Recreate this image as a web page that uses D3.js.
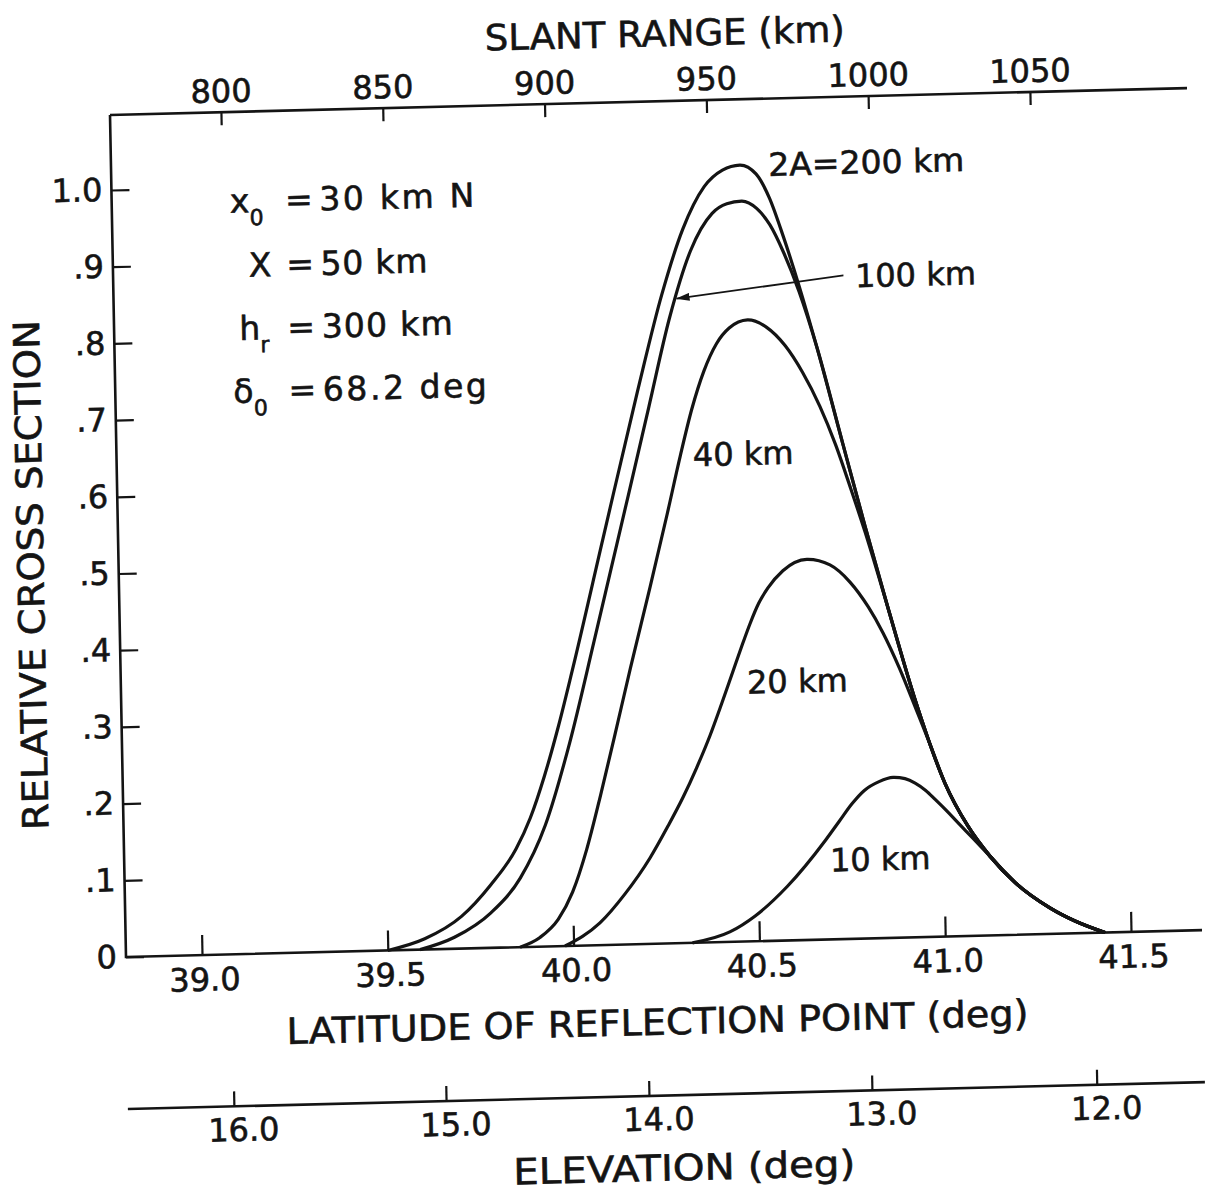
<!DOCTYPE html>
<html><head><meta charset="utf-8">
<script src="https://cdn.jsdelivr.net/npm/d3@7"></script>
<style>
html,body{margin:0;padding:0;background:#fff;}
svg{display:block;}
text{font-family:"DejaVu Sans",sans-serif;fill:#141414;stroke:#141414;stroke-width:0.6px;}
</style></head><body>
<svg id="chart" width="1205" height="1192"></svg>
<script>
// ---------- data ----------
const latTicks = [39.0, 39.5, 40.0, 40.5, 41.0, 41.5];
const latLabels = ["39.0", "39.5", "40.0", "40.5", "41.0", "41.5"];
const slantTicks = [800, 850, 900, 950, 1000, 1050];
const slantLabels = ["800", "850", "900", "950", "1000", "1050"];
const slantLatAt = [39.094, 41.271];            // latitude at 800 km and at 1050 km slant range
const elevTicks = [16, 15, 14, 13, 12];
const elevLabels = ["16.0", "15.0", "14.0", "13.0", "12.0"];
const elevLatAt = [39.078, 39.649, 40.195, 40.795, 41.400]; // latitude at each elevation tick
const yTicks = [0, 0.1, 0.2, 0.3, 0.4, 0.5, 0.6, 0.7, 0.8, 0.9, 1.0];
const yLabels = ["0", ".1", ".2", ".3", ".4", ".5", ".6", ".7", ".8", ".9", "1.0"];

// relative cross section vs latitude of reflection point (deg)
const curve200 = [[39.50,0],[39.60,0.014],[39.70,0.042],[39.78,0.082],[39.85,0.128],[39.89,0.168],[39.93,0.222],
  [39.97,0.286],[40.01,0.358],[40.10,0.53],[40.20,0.72],[40.27,0.845],[40.33,0.93],[40.39,0.985],[40.44,1.006],
  [40.487,1.012],[40.53,1.0],[40.565,0.968],[40.60,0.918],[40.64,0.853],[40.685,0.772],[40.75,0.645],
  [40.805,0.538],[40.863,0.43],[40.931,0.31],[41.007,0.20],[41.067,0.143],[41.125,0.103],[41.191,0.068],
  [41.283,0.034],[41.35,0.016],[41.43,0]];
const curve100 = [[39.587,0],[39.68,0.015],[39.78,0.046],[39.86,0.09],[39.93,0.158],[40.00,0.265],[40.07,0.395],
  [40.12,0.49],[40.17,0.585],[40.23,0.70],[40.29,0.815],[40.35,0.902],[40.41,0.950],[40.45,0.962],[40.49,0.965],
  [40.53,0.955],[40.565,0.933],[40.60,0.897],[40.64,0.845],[40.685,0.772],[40.75,0.645],
  [40.805,0.538],[40.863,0.43],[40.931,0.31],[41.007,0.20],[41.067,0.143],[41.125,0.103],[41.191,0.068],
  [41.283,0.034],[41.35,0.016],[41.43,0]];
const curve40 = [[39.856,0],[39.91,0.012],[39.96,0.035],[40.00,0.07],[40.04,0.125],[40.08,0.195],[40.12,0.27],
  [40.167,0.36],[40.224,0.465],[40.274,0.56],[40.312,0.635],[40.345,0.695],[40.38,0.745],[40.415,0.78],
  [40.45,0.80],[40.50,0.81],[40.55,0.80],[40.60,0.775],[40.645,0.74],[40.69,0.695],[40.73,0.645],[40.77,0.585],
  [40.805,0.530],[40.863,0.43],[40.931,0.31],[41.007,0.20],[41.067,0.143],[41.125,0.103],[41.191,0.068],
  [41.283,0.034],[41.35,0.016],[41.43,0]];
const curve20 = [[39.977,0],[40.072,0.029],[40.141,0.066],[40.21,0.112],[40.26,0.153],[40.302,0.19],[40.34,0.228],
  [40.378,0.27],[40.41,0.31],[40.443,0.353],[40.47,0.388],[40.491,0.414],[40.515,0.440],[40.541,0.460],
  [40.582,0.482],[40.647,0.496],[40.709,0.488],[40.762,0.465],[40.81,0.432],[40.848,0.398],[40.89,0.352],
  [40.935,0.295],[40.97,0.25],[41.007,0.20],[41.067,0.143],[41.125,0.103],[41.191,0.068],
  [41.283,0.034],[41.35,0.016],[41.43,0]];
const curve10 = [[40.32,0],[40.421,0.013],[40.490,0.033],[40.577,0.070],[40.684,0.130],[40.72,0.153],[40.756,0.176],
  [40.79,0.193],[40.83,0.204],[40.868,0.209],[40.90,0.207],[40.927,0.201],[40.955,0.191],[40.98,0.179],
  [41.01,0.164],[41.04,0.148],[41.08,0.127],[41.125,0.103],[41.191,0.068],
  [41.283,0.034],[41.35,0.016],[41.43,0]];

const curveLabels = ["2A=200 km", "100 km", "40 km", "20 km", "10 km"];
const curveLabelAt = [[40.5635, 1.012], [40.791, 0.864], [40.346, 0.636], [40.480, 0.338], [40.694, 0.1035]];
const arrowPath = [[40.76, 0.865], [40.635, 0.858], [40.31, 0.840]];

const paramSymbols = ["x", "X", "h", "\u03b4"];
const paramSubs = ["0", "", "r", "0"];
const paramValues = ["30 km  N", "50 km", "300 km", "68.2 deg"];
const paramSymLat = [39.113, 39.161, 39.132, 39.113];
const paramRowVal = [0.982, 0.898, 0.816, 0.734];

// ---------- drawing ----------
const ink = "#141414";
const svg = d3.select("#chart");
svg.append("rect").attr("width", 1205).attr("height", 1192).attr("fill", "#fff");
const g = svg.append("g").attr("transform", "matrix(1,-0.025,0.019,1,126,957)");

const plotRight = 1076, plotTop = -842, elevY = 152;
const x = d3.scaleLinear().domain([39.0, 41.5]).range([76, 1005]);
const y = d3.scaleLinear().domain([0, 1]).range([0, -767]);
const slant = d3.scaleLinear().domain([slantTicks[0], slantTicks[slantTicks.length - 1]]).range(slantLatAt.map(x));
const elev = d3.scaleLinear().domain(elevTicks).range(elevLatAt.map(x));

const frame = g.append("g").attr("stroke", ink).attr("stroke-width", 2.6).attr("fill", "none");
frame.append("path").attr("d", `M0,${plotTop}V0H${plotRight}`);
frame.append("path").attr("d", `M0,${plotTop}H${plotRight + 1}`);
frame.append("path").attr("d", `M-1,${elevY}H${plotRight}`);

function styleAxis(sel) {
  sel.attr("font-family", "DejaVu Sans").attr("font-size", 32);
  sel.select(".domain").remove();
  sel.selectAll(".tick line").attr("stroke", ink).attr("stroke-width", 2.2);
  sel.selectAll(".tick text").attr("fill", ink);
}

g.append("g")
  .call(d3.axisBottom(x).tickValues(latTicks).tickFormat((d, i) => latLabels[i])
    .tickSizeInner(-20).tickSizeOuter(0).tickPadding(13))
  .call(styleAxis)
  .selectAll(".tick text").attr("dx", 2);

g.append("g").attr("transform", `translate(0,${plotTop})`)
  .call(d3.axisTop(slant).tickValues(slantTicks).tickFormat((d, i) => slantLabels[i])
    .tickSizeInner(-13).tickSizeOuter(0).tickPadding(10))
  .call(styleAxis);

g.append("g")
  .call(d3.axisLeft(y).tickValues(yTicks).tickFormat((d, i) => yLabels[i])
    .tickSizeInner(-18).tickSizeOuter(0).tickPadding(9))
  .call(styleAxis);

g.append("g").attr("transform", `translate(0,${elevY})`)
  .call(d3.axisBottom(elev).tickValues(elevTicks).tickFormat((d, i) => elevLabels[i])
    .tickSizeInner(-15).tickSizeOuter(0).tickPadding(12))
  .call(styleAxis)
  .selectAll(".tick text").attr("dx", 9);

// axis titles
const titles = [
  {t: "SLANT RANGE (km)", x: 556, y: -897, len: 360},
  {t: "LATITUDE OF REFLECTION POINT (deg)", x: 530, y: 91, len: 742},
  {t: "ELEVATION (deg)", x: 554, y: 237, len: 342}
];
g.selectAll(".title").data(titles).join("text").attr("class", "title")
  .attr("x", d => d.x).attr("y", d => d.y).attr("text-anchor", "middle")
  .attr("font-size", 36).attr("textLength", d => d.len).attr("lengthAdjust", "spacingAndGlyphs")
  .text(d => d.t);
g.append("text").attr("transform", "translate(-75,-384) rotate(-90)")
  .attr("text-anchor", "middle").attr("font-size", 36)
  .attr("textLength", 510).attr("lengthAdjust", "spacingAndGlyphs")
  .text("RELATIVE CROSS SECTION");

// curves
const line = d3.line().x(d => x(d[0])).y(d => y(d[1])).curve(d3.curveMonotoneX);
g.append("g").selectAll("path").data([curve200, curve100, curve40, curve20, curve10]).join("path")
  .attr("d", line).attr("fill", "none").attr("stroke", ink).attr("stroke-width", 3.2)
  .attr("stroke-linejoin", "round");

// curve labels
g.append("g").selectAll("text").data(curveLabels).join("text")
  .attr("x", (d, i) => x(curveLabelAt[i][0])).attr("y", (d, i) => y(curveLabelAt[i][1]))
  .attr("dy", "0.36em").attr("font-size", 32)
  .each(function (d, i) { if (i === 0) d3.select(this).attr("textLength", 196).attr("lengthAdjust", "spacingAndGlyphs"); })
  .text(d => d);

// arrow to the 100 km curve
svg.append("defs").append("marker").attr("id", "ah").attr("viewBox", "0 0 14 8")
  .attr("refX", 13).attr("refY", 4).attr("markerWidth", 14).attr("markerHeight", 8)
  .attr("markerUnits", "userSpaceOnUse").attr("orient", "auto")
  .append("path").attr("d", "M0,0L14,4L0,8Z").attr("fill", ink);
g.append("path").attr("d", d3.line().x(d => x(d[0])).y(d => y(d[1])).curve(d3.curveNatural)(arrowPath))
  .attr("fill", "none").attr("stroke", ink).attr("stroke-width", 1.8).attr("marker-end", "url(#ah)");

// parameter block
const eqLat = 39.299, valLat = 39.354;
const rows = g.append("g").attr("font-size", 33);
paramSymbols.forEach((s, i) => {
  const t = rows.append("text").attr("x", x(paramSymLat[i])).attr("y", y(paramRowVal[i])).attr("dy", "0.36em");
  t.append("tspan").text(s);
  if (paramSubs[i]) t.append("tspan").attr("font-size", 22).attr("dy", 13).text(paramSubs[i]);
  rows.append("text").attr("x", x(eqLat)).attr("y", y(paramRowVal[i])).attr("dy", "0.36em")
    .attr("text-anchor", "middle").text("=");
});
const valLens = [155, 107, 131, 164];
rows.selectAll(".pv").data(paramValues).join("text").attr("class", "pv")
  .attr("x", x(valLat)).attr("y", (d, i) => y(paramRowVal[i])).attr("dy", "0.36em")
  .attr("textLength", (d, i) => valLens[i]).attr("lengthAdjust", "spacing")
  .text(d => d);
</script></body></html>
